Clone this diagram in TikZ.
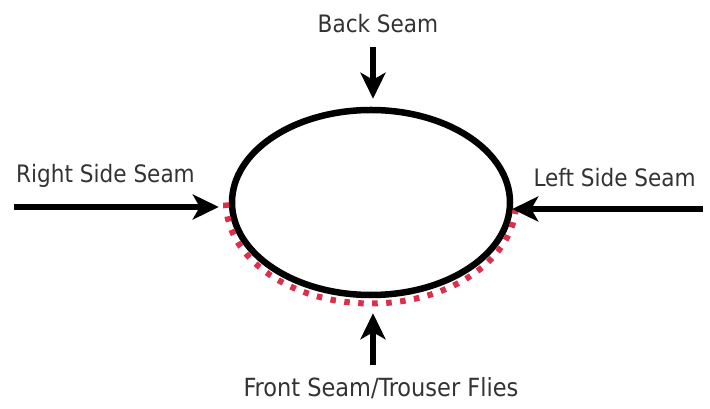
\documentclass[tikz,border=0pt]{standalone}
\usepackage{fontspec}
\setmainfont{DejaVu Sans Condensed}
\usetikzlibrary{arrows.meta, positioning, shapes.geometric, calc}
\definecolor{cred}{HTML}{DC2F4C}
\definecolor{ctext}{HTML}{333333}
\tikzset{
  every picture/.style={font=\fontsize{24}{28}\selectfont, line width=6.5pt},
  arrow/.style={-{Stealth[length=26pt, width=25pt, inset=7pt]}, line width=5.5pt},
  lbl/.style={text=ctext, inner sep=0pt, anchor=base},
  stitch/.style={draw=cred, line width=6pt, dash pattern=on 5.5pt off 8.5pt},
}

\begin{document}
\begin{tikzpicture}[x=1pt, y=1pt]
  \useasboundingbox (0,0) rectangle (710,409);
  \node[ellipse, draw, minimum width=278pt, minimum height=185pt, inner sep=0pt] (pocket) at (371,206.5) {};
  \draw[stitch] ($(pocket.center)+(-145,0)$) arc[start angle=180, end angle=360, x radius=145pt, y radius=101pt];
  \node[lbl] (backlbl) at (378,376) {Back Seam};
  \node[lbl, anchor=base west] (rightlbl) at (13,226) {Right Side Seam};
  \node[lbl, anchor=base east] (leftlbl) at (699,222) {Left Side Seam};
  \node[lbl, font=\fontsize{25}{28}\selectfont] (frontlbl) at (381,12) {Front Seam/Trouser Flies};
  \coordinate (backtail) at (373,362);
  \coordinate (fronttail) at (373,44);
  \coordinate (righttail) at (14,202);
  \coordinate (lefttail) at (703,200);
  \draw[arrow] (backtail) -- ($(backtail |- pocket.north)+(0,8)$);
  \draw[arrow] (fronttail) -- ($(fronttail |- pocket.south)+(0,-15)$);
  \draw[arrow] (righttail) -- ($(righttail -| pocket.west)+(-10,0)$);
  \draw[arrow] (lefttail) -- ($(lefttail -| pocket.east)+(-1,0)$);
\end{tikzpicture}
\end{document}
